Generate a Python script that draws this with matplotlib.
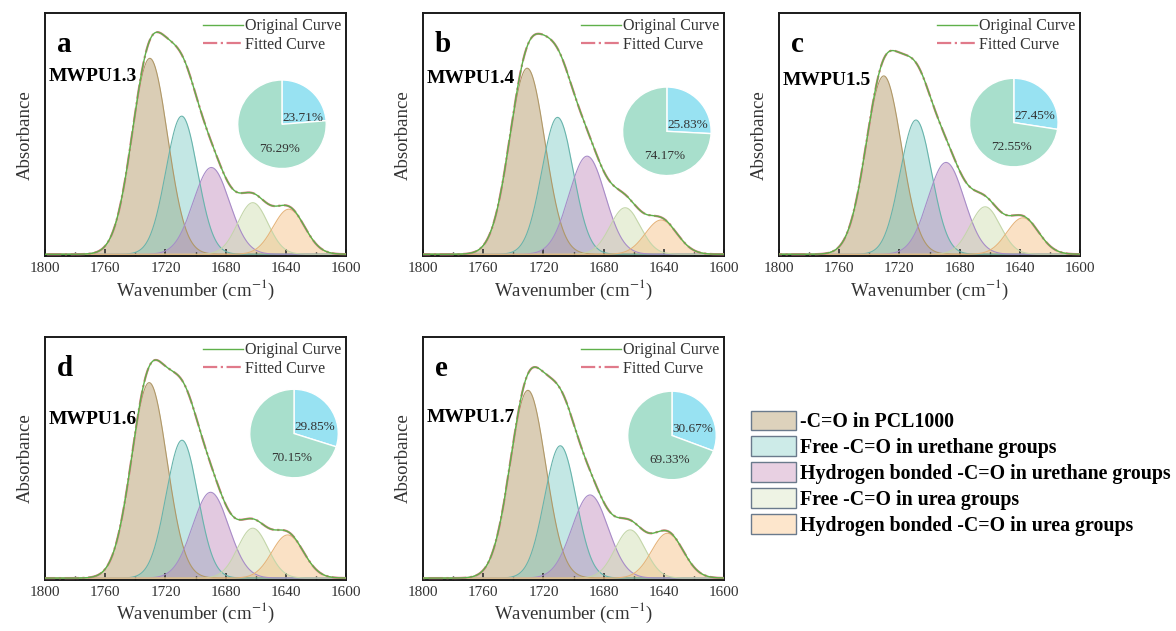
import matplotlib
matplotlib.use("Agg")
import matplotlib.pyplot as plt
from matplotlib.patches import Patch
import numpy as np

plt.rcParams['font.family'] = ['Liberation Serif', 'DejaVu Serif']
plt.rcParams['mathtext.fontset'] = 'stix'

# sample names / panel letters
samples = ["MWPU1.3", "MWPU1.4", "MWPU1.5", "MWPU1.6", "MWPU1.7"]
letters = ["a", "b", "c", "d", "e"]

peak_names = ["-C=O in PCL1000",
              "Free -C=O in urethane groups",
              "Hydrogen bonded -C=O in urethane groups",
              "Free -C=O in urea groups",
              "Hydrogen bonded -C=O in urea groups"]

# fitted gaussian peaks (cm-1, normalised height, sigma)
centers = [
    [1730.4, 1709.2, 1689.5, 1662.0, 1638.0],
    [1730.8, 1710.6, 1691.0, 1665.7, 1641.8],
    [1730.4, 1709.0, 1689.0, 1663.0, 1638.0],
    [1730.8, 1709.0, 1690.0, 1662.0, 1638.8],
    [1730.3, 1708.8, 1689.0, 1662.4, 1637.6],
]
heights = [
    [0.813, 0.573, 0.360, 0.214, 0.187],
    [0.772, 0.568, 0.407, 0.193, 0.142],
    [0.740, 0.557, 0.381, 0.197, 0.151],
    [0.811, 0.572, 0.356, 0.207, 0.179],
    [0.779, 0.549, 0.345, 0.200, 0.186],
]
sigmas = [11.8, 10.5, 12.0, 10.0, 10.5]

# free / hydrogen-bonded fraction pies (%)
pie_small = [23.71, 25.83, 27.45, 29.85, 30.67]
pie_large = [76.29, 74.17, 72.55, 70.15, 69.33]

fill_cols = ['#c0aa80', '#72c8c0', '#c088bc', '#cfdfb0', '#f4be80']
edge_cols = ['#b09868', '#68b4ac', '#a88cc8', '#c4d6aa', '#e6b47a']
fill_alpha = [0.58, 0.42, 0.45, 0.48, 0.45]
legend_cols = ['#ddd2bc', '#cdebe8', '#e8d0e2', '#eef3e4', '#fde6cc']

# layout
axes_pos = [(0.0383, 0.594), (0.3597, 0.594), (0.6624, 0.594),
            (0.0383, 0.0808), (0.3597, 0.0808)]
pie_pos = [(0.787, 0.543), (0.81, 0.514), (0.78, 0.55), (0.827, 0.603), (0.827, 0.595)]
name_y = [0.74, 0.73, 0.725, 0.66, 0.67]

fig = plt.figure(figsize=(11.76, 6.31), dpi=100)
x = np.linspace(1600, 1800, 801)

for i in range(5):
    ax = fig.add_axes([axes_pos[i][0], axes_pos[i][1], 0.256, 0.385])
    total = np.zeros_like(x)
    for k in range(5):
        y = heights[i][k] * np.exp(-(x - centers[i][k]) ** 2 / (2 * sigmas[k] ** 2))
        total += y
        ax.fill_between(x, 0, y, color=fill_cols[k], alpha=fill_alpha[k], lw=0)
        ax.plot(x, y, color=edge_cols[k], lw=0.8)
    ax.plot(x, total, color='#e07a8a', lw=1.6, ls='-.', label='Fitted Curve', zorder=4)
    ax.plot(x, total, color='#5fb04a', lw=1.0, label='Original Curve', zorder=5)
    ax.set_xlim(1800, 1600)
    ax.set_ylim(-0.008, 1.0)
    ax.set_xticks([1800, 1760, 1720, 1680, 1640, 1600])
    ax.set_xticks(np.arange(1600, 1801, 20), minor=True)
    ax.set_yticks([])
    ax.tick_params(axis='x', which='major', direction='in', length=5, width=1.2,
                   labelsize=11, colors='#333333', pad=4)
    ax.tick_params(axis='x', which='minor', direction='in', length=3, width=1.0)
    for s in ax.spines.values():
        s.set_linewidth(1.4)
        s.set_color('#1a1a1a')
    ax.set_xlabel('Wavenumber (cm$^{-1}$)', fontsize=13.5, color='#333333', labelpad=2)
    ax.set_ylabel('Absorbance', fontsize=13.5, color='#333333', labelpad=8)
    ax.text(0.04, 0.87, letters[i], transform=ax.transAxes, fontsize=21,
            fontweight='bold', va='center', ha='left')
    ax.text(0.013, name_y[i], samples[i], transform=ax.transAxes, fontsize=14,
            fontweight='bold', va='center', ha='left')
    h, l = ax.get_legend_handles_labels()
    ax.legend(h[::-1], l[::-1], loc='upper right', bbox_to_anchor=(1.02, 1.025),
              frameon=False, fontsize=11.5, handlelength=2.5, handletextpad=0.1,
              labelspacing=0.15, borderaxespad=0.3, labelcolor='#333333')

    # pie inset
    pw, ph = 0.30, 0.372
    pax = ax.inset_axes([pie_pos[i][0] - pw / 2, pie_pos[i][1] - ph / 2, pw, ph])
    pax.pie([pie_small[i], pie_large[i]], colors=['#98e2f2', '#a8dfcc'],
            startangle=90, counterclock=False,
            wedgeprops=dict(edgecolor='white', linewidth=1.0))
    pax.set_xlim(-1.02, 1.02)
    pax.set_ylim(-1.02, 1.02)
    pax.set_aspect('equal')
    pax.text(0.47, 0.14, '%.2f%%' % pie_small[i], ha='center', va='center',
             fontsize=9.5, color='#333333')
    pax.text(-0.05, -0.56, '%.2f%%' % pie_large[i], ha='center', va='center',
             fontsize=9.5, color='#333333')

handles = [Patch(facecolor=legend_cols[k], edgecolor='#6a7a8c', linewidth=1.0)
           for k in range(5)]
fig.legend(handles, peak_names, loc='upper left', bbox_to_anchor=(0.632, 0.362),
           frameon=False, prop={'size': 14.3, 'weight': 'bold'},
           handlelength=2.25, handleheight=1.15, handletextpad=0.2,
           labelspacing=0.22, borderaxespad=0)

fig.savefig('out.png', dpi=100)
